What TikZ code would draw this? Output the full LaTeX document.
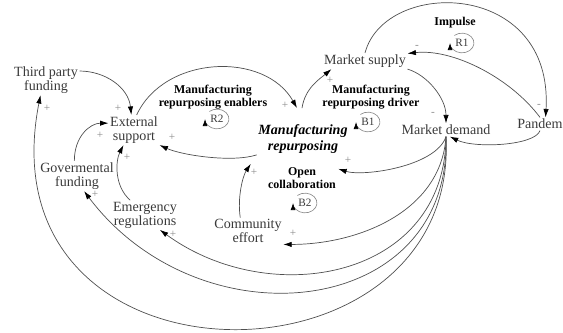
\documentclass[tikz,border=0pt]{standalone}
\usepackage{fontspec}
\setmainfont{Liberation Serif}
\usepackage{xcolor}
\usepackage{tikz}
\usetikzlibrary{arrows.meta}
\definecolor{ink}{HTML}{3A3A3A}
\definecolor{wire}{HTML}{505050}
\definecolor{faint}{HTML}{8A8A8A}
\tikzset{
  var/.style={text=ink, align=center, inner sep=1pt, font=\fontsize{10}{10}\selectfont},
  core/.style={text=black, align=center, inner sep=1pt, font=\fontsize{10}{11}\selectfont\bfseries\itshape},
  loopname/.style={text=black, align=center, inner sep=1pt, font=\fontsize{8.5}{9.5}\selectfont\bfseries},
  looptag/.style={text=ink, inner sep=0pt, font=\fontsize{8}{8}\selectfont},
  link/.style={draw=wire, line width=0.5pt, -{Latex[length=6pt,width=3.8pt,color=black]}},
  loopc/.style={draw=faint, line width=0.45pt, -{Latex[length=5pt,width=3.5pt,color=black]}},
  sign/.style={text=faint, inner sep=0pt, font=\fontsize{8}{8}\selectfont},
}

\begin{document}
\begin{tikzpicture}[x=0.025cm, y=-0.025cm]
\useasboundingbox (0,0) rectangle (563,333);
% variables
\node[var] (tpf) at (46,80) {Third party\\funding};
\node[var] (ext) at (134,130) {External\\support};
\node[var] (gov) at (77,176) {Govermental\\funding};
\node[var] (emr) at (145,215) {Emergency\\regulations};
\node[var] (com) at (248,231) {Community\\effort};
\node[core] (mr) at (303,139) {Manufacturing\\repurposing};
\node[var] (ms) at (365,61) {Market supply};
\node[var] (md) at (446,130) {Market demand};
\node[var] (pan) at (540,124) {Pandem};
% loops
\node[loopname] (ena) at (213,97) {Manufacturing\\repurposing enablers};
\node[loopname] (drv) at (371,97) {Manufacturing\\repurposing driver};
\node[loopname] (imp) at (455,23) {Impulse};
\node[loopname] (opn) at (302,178) {Open\\collaboration};
\node[looptag] (r1) at (462,43) {R1};
\node[looptag] (r2) at (217,119) {R2};
\node[looptag] (b1) at (368,122) {B1};
\node[looptag] (b2) at (305,203) {B2};
\foreach \t in {r1,r2,b1,b2}
  \draw[loopc] ([shift={(130:8.5pt and 7pt)}]\t.center) arc[start angle=130, end angle=-180, x radius=8.5pt, y radius=7pt];
% links
\draw[link] (tpf.15) .. controls +(25,0) and +(-3,-28) .. (ext.100);
\draw[link] (gov.100) .. controls +(0,-25) and +(-18,0) .. (ext.165);
\draw[link] (emr.135) .. controls +(-16,-14) and +(-8,16) .. (ext.235);
\draw[link] (ext.80) .. controls +(28,-60) and +(-32,-57) .. ([shift={(-6,-15)}]mr.north);
\draw[link] (mr.south west) .. controls +(-25,8) and +(22,10) .. (ext.south east);
\draw[link] ([shift={(-1,-15)}]mr.north) .. controls +(3,-20) and +(-12,10) .. ([shift={(9,0)}]ms.south west);
\draw[link] (ms.south east) .. controls +(20,6) and +(0,-25) .. (md.north);
\draw[link] (ms.north) .. controls +(20,-75) and +(8,-138) .. (pan.50);
\draw[link] (pan.north) .. controls +(-30,-40) and +(45,-5) .. (ms.10);
\draw[link] (pan.south) .. controls +(-5,15) and +(25,12) .. (md.-60);
\draw[link] (md.south) .. controls +(-10,30) and +(25,8) .. ([shift={(-11,14)}]mr.south east);
\draw[link] (com.120) .. controls +(-3,-20) and +(-8,12) .. ([shift={(-6,9)}]mr.south west);
\draw[link] (md.south) .. controls +(-5,75) and +(75,0) .. (com.south east);
\draw[link] (md.south) .. controls +(-1,142) and +(111,81) .. (emr.-45);
\draw[link] (md.south) .. controls +(6,182) and +(117,155) .. (gov.-65);
\draw[link] (md.south) .. controls +(14,262) and +(-60,305) .. (tpf.-110);
% polarities
\node[sign] (s1) at (118,108) {+};
\node[sign] (s2) at (100,135) {+};
\node[sign] (s3) at (127,157) {+};
\node[sign] (s4) at (285,105) {+};
\node[sign] (s5) at (172,137) {+};
\node[sign] (s6) at (330,80) {+};
\node[sign] (s7) at (433,114) {-};
\node[sign] (s8) at (539,106) {-};
\node[sign] (s9) at (417,47) {-};
\node[sign] (s11) at (348,160) {+};
\node[sign] (s12) at (254,172) {+};
\node[sign] (s13) at (293,233) {+};
\node[sign] (s14) at (173,234) {+};
\node[sign] (s15) at (95,194) {+};
\node[sign] (s16) at (47,108) {+};
\end{tikzpicture}
\end{document}
